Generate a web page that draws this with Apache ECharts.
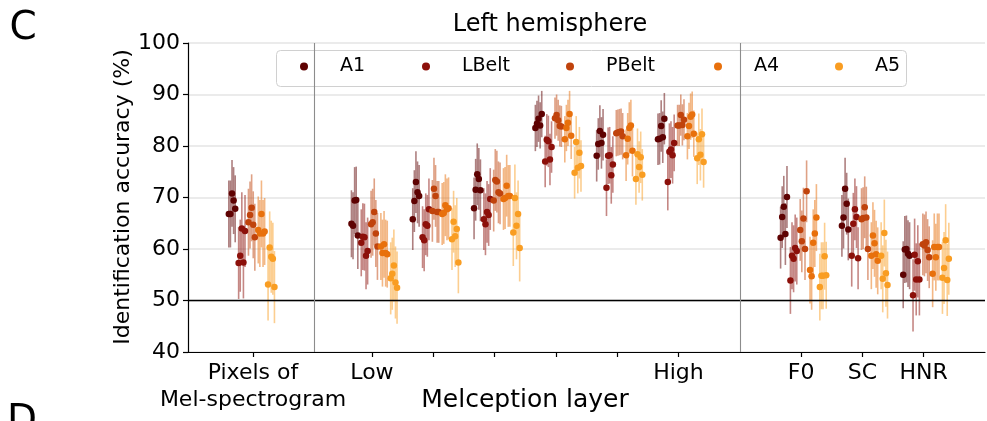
<!DOCTYPE html>
<html><head><meta charset="utf-8">
<script src="https://cdn.jsdelivr.net/npm/echarts@6/dist/echarts.min.js"></script>
<style>html,body{margin:0;padding:0;background:#fff}#c{width:987px;height:421px}</style>
</head><body><div id="c"></div>
<script>
// ---- data ----
const groupPositions = [0, 2, 3, 4, 5, 6, 7, 9, 10, 11];
const tickPositions = [0.06, 2, 3, 4, 5, 6, 7, 9, 10, 11];
const tickLabels = ['Pixels of\nMel-spectrogram', 'Low', '', '', '', '', 'High', 'F0', 'SC', 'HNR'];
const labelPositions = [0.06, 2, 7, 9, 10, 11];
const separatorPositions = [1.06, 8];
const rois = ['A1', 'LBelt', 'PBelt', 'A4', 'A5'];
const yTicks = [40, 50, 60, 70, 80, 90, 100];
const chanceLevel = 50;

// per category (Pixels, layers Low..High, F0, SC, HNR), 5 subjects each
const A1_acc = [
  [66.8, 66.8, 70.8, 69.4, 67.8], [64.9, 64.5, 69.4, 69.5, 62.6], [65.8, 69.3, 73.0, 71.0, 70.3],
  [67.9, 71.5, 74.5, 73.6, 71.4], [83.5, 84.3, 85.3, 84.0, 86.2], [78.1, 80.4, 82.9, 80.6, 82.2],
  [81.3, 81.4, 83.9, 81.7, 85.3], [62.2, 66.2, 68.2, 62.9, 70.1], [64.5, 66.1, 71.7, 68.8, 63.8],
  [55.0, 59.9, 60.0, 59.1, 58.7]];
const LBelt_acc = [
  [57.3, 58.7, 64.0, 57.4, 63.5], [61.2, 62.4, 62.3, 58.7, 59.6], [62.3, 61.7, 64.8, 64.5, 67.7],
  [65.8, 64.8, 67.2, 66.6, 69.7], [77.0, 81.2, 80.9, 77.4, 79.8], [71.9, 78.1, 78.2, 74.3, 76.4],
  [73.0, 78.9, 79.3, 78.2, 80.6], [53.9, 58.7, 58.1, 60.2, 59.6], [58.7, 64.9, 67.7, 66.2, 58.2],
  [51.0, 58.9, 54.1, 57.6, 54.1]];
const PBelt_acc = [
  [65.2, 66.6, 68.0, 64.7, 62.3], [64.8, 65.2, 67.2, 63.0, 60.5], [67.4, 71.7, 70.3, 67.2, 67.2],
  [69.4, 73.4, 73.1, 71.0, 70.8], [85.4, 86.0, 85.0, 83.9, 83.8], [82.5, 82.6, 82.7, 82.8, 81.9],
  [84.0, 84.0, 86.0, 84.1, 85.1], [63.7, 61.5, 65.9, 60.0, 71.2], [65.8, 66.0, 68.1, 66.1, 60.0],
  [60.9, 60.7, 61.3, 59.8, 58.4]];
const A4_acc = [
  [63.7, 63.0, 66.8, 63.0, 63.4], [60.5, 59.2, 60.9, 59.2, 59.0], [66.8, 67.0, 68.5, 67.7, 67.9],
  [69.7, 69.9, 72.3, 70.3, 70.3], [81.3, 83.5, 84.5, 86.2, 82.0], [78.2, 81.4, 83.5, 84.0, 79.1],
  [81.9, 83.9, 85.7, 86.1, 82.4], [55.9, 54.7, 61.2, 63.0, 66.1], [58.7, 62.6, 61.1, 59.0, 57.7],
  [55.2, 60.4, 58.4, 60.4, 60.4]];
const A5_acc = [
  [53.1, 60.3, 58.5, 58.1, 52.6], [54.3, 55.2, 56.8, 53.5, 52.5], [61.9, 65.3, 62.5, 63.9, 57.4],
  [63.2, 69.9, 64.5, 66.8, 60.2], [74.8, 80.8, 75.8, 78.7, 76.1], [73.6, 78.4, 75.9, 77.8, 74.4],
  [77.6, 81.3, 78.3, 82.3, 76.9], [52.6, 54.8, 54.8, 58.6, 54.9], [58.7, 54.2, 63.1, 55.3, 53.0],
  [54.4, 56.3, 61.7, 54.0, 58.1]];

// error-bar half widths per category
const A1_err    = [6.5, 6.5, 6.0, 6.0, 4.5, 5.0, 5.0, 6.0, 6.0, 6.5];
const LBelt_err = [7.0, 6.5, 6.0, 6.0, 5.0, 5.5, 5.5, 6.5, 6.0, 7.0];
const PBelt_err = [6.5, 6.5, 6.0, 6.0, 4.0, 4.5, 4.0, 6.0, 6.0, 6.0];
const A4_err    = [6.5, 6.5, 6.0, 6.0, 4.5, 5.0, 4.5, 6.5, 6.5, 6.5];
const A5_err    = [7.0, 7.0, 6.0, 6.5, 5.0, 5.0, 5.0, 6.5, 6.5, 7.0];

const roiAcc = [A1_acc, LBelt_acc, PBelt_acc, A4_acc, A5_acc];
const roiErr = [A1_err, LBelt_err, PBelt_err, A4_err, A5_err];
const roiColors = ['#5e0202', '#8c100a', '#c0430c', '#e8700c', '#f99d22'];

const FONT = 'DejaVu Sans';
const chart = echarts.init(document.getElementById('c'), null, {renderer: 'canvas'});

const series = [];
rois.forEach((name, r) => {
  const pts = [], bars = [];
  roiAcc[r].forEach((vals, c) => {
    vals.forEach((v, s) => {
      const x = groupPositions[c] - 0.334 + r * 0.16 + s * 0.026;
      const e = roiErr[r][c];
      pts.push([x, v]);
      bars.push([x, v - e, v + e]);
    });
  });
  const color = roiColors[r];
  const bar = {
    type: 'custom',
    name: name + ' err',
    data: bars,
    encode: {x: 0, y: [1, 2]},
    silent: true,
    z: 2,
    renderItem: (params, api) => {
      const a = api.coord([api.value(0), api.value(1)]);
      const b = api.coord([api.value(0), api.value(2)]);
      return {type: 'line', shape: {x1: a[0], y1: a[1], x2: b[0], y2: b[1]},
        style: {stroke: color, lineWidth: 1.6, opacity: 0.5}};
    }
  };
  if (r === 0) {
    bar.markLine = {
      silent: true, symbol: 'none', label: {show: false}, animation: false,
      data: [
        {yAxis: chanceLevel, lineStyle: {color: '#000', width: 1.4, type: 'solid'}}
      ].concat(separatorPositions.map(p => ({xAxis: p, lineStyle: {color: '#8c8c8c', width: 1.1, type: 'solid'}})))
    };
  }
  series.push(bar);
  series.push({
    type: 'scatter', name: name, data: pts, symbol: 'circle', symbolSize: 6.5,
    itemStyle: {color: color, opacity: 1}, z: 3
  });
});

const legendCenters = [303, 425, 569, 717, 838];
const legends = rois.map((name, i) => ({
  data: [name], left: legendCenters[i] - 3, top: 57, padding: 0,
  itemWidth: 62, itemHeight: 8, itemGap: 0, icon: 'circle', z: 5,
  textStyle: {fontFamily: FONT, fontSize: 19, color: '#000'},
  selectedMode: false
}));

chart.setOption({
  animation: false,
  backgroundColor: '#fff',
  grid: {left: 188, right: 2, top: 43, bottom: 69},
  xAxis: {
    type: 'value', min: -1, max: 12,
    axisLine: {show: true, onZero: false, lineStyle: {color: '#000', width: 1.2}},
    axisTick: {show: true, customValues: tickPositions, length: 5, lineStyle: {color: '#000', width: 1.2}},
    axisLabel: {
      customValues: labelPositions, margin: 8, fontFamily: FONT, fontSize: 22, color: '#000', lineHeight: 27,
      formatter: v => {
        let best = -1, d = 1e9;
        tickPositions.forEach((p, i) => { if (Math.abs(p - v) < d) { d = Math.abs(p - v); best = i; } });
        return d < 0.2 ? tickLabels[best] : '';
      }
    },
    splitLine: {show: false}
  },
  yAxis: {
    type: 'value', min: yTicks[0], max: yTicks[yTicks.length - 1], interval: 10,
    axisLine: {show: true, onZero: false, lineStyle: {color: '#000', width: 1.2}},
    axisTick: {show: true, length: 5, lineStyle: {color: '#000', width: 1.2}},
    axisLabel: {margin: 8, fontFamily: FONT, fontSize: 22, color: '#000'},
    splitLine: {show: true, lineStyle: {color: '#e4e4e4', width: 1.5}}
  },
  legend: legends,
  graphic: [
    {type: 'rect', z: 4, shape: {x: 276.5, y: 50.5, width: 630, height: 36, r: 4},
      style: {fill: 'rgba(255,255,255,0.8)', stroke: '#d0d0d0', lineWidth: 1}},
    {type: 'text', x: 23, y: 29, style: {text: 'C', fontFamily: FONT, fontSize: 39, fill: '#000', align: 'center', verticalAlign: 'middle'}},
    {type: 'text', x: 22, y: 422, style: {text: 'D', fontFamily: FONT, fontSize: 39, fill: '#000', align: 'center', verticalAlign: 'middle'}},
    {type: 'text', x: 550, y: 25, style: {text: 'Left hemisphere', fontFamily: FONT, fontSize: 24, fill: '#000', align: 'center', verticalAlign: 'middle'}},
    {type: 'text', x: 123, y: 197, rotation: Math.PI / 2, style: {text: 'Identification accuracy (%)', fontFamily: FONT, fontSize: 22, fill: '#000', align: 'center', verticalAlign: 'middle'}},
    {type: 'text', x: 525, y: 400, style: {text: 'Melception layer', fontFamily: FONT, fontSize: 25, fill: '#000', align: 'center', verticalAlign: 'middle'}}
  ],
  series: series
});
</script></body></html>
